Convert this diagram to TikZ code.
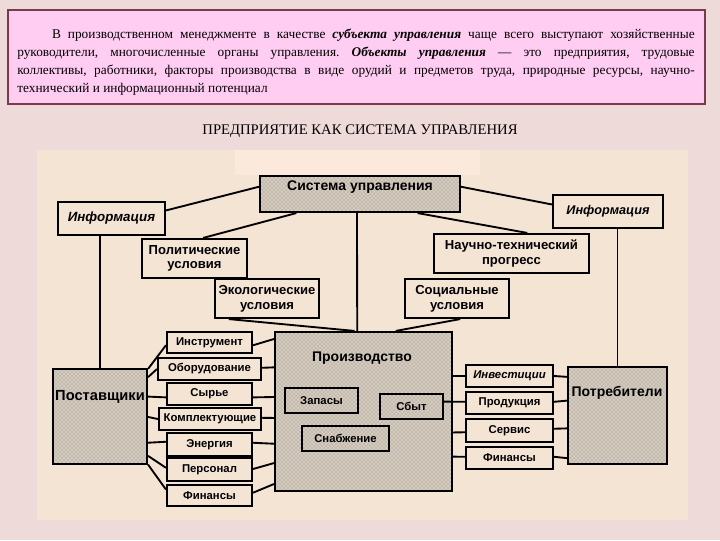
\documentclass[tikz,border=0pt]{standalone}
\usepackage{fontspec}
\setmainfont{Liberation Serif}
\newfontfamily\dgfont{Liberation Sans}
\usetikzlibrary{calc,patterns}
\definecolor{bgpink}{HTML}{EFDADA}
\definecolor{areabg}{HTML}{F3E4D3}
\definecolor{areatop}{HTML}{FBE9DC}
\definecolor{notefill}{HTML}{FFCCF2}
\definecolor{noteline}{HTML}{7A3A4C}
\definecolor{speckbg}{HTML}{D6CCBE}
\newcommand\mkbox[7]{\node[#6, minimum width={(#4-#2)*0.75pt}, minimum height={(#5-#3)*0.75pt}] (#1) at ({(#2+#4)/2},{(#3+#5)/2}) {#7};}
\begin{document}
\begin{tikzpicture}[x=0.75pt,y=-0.75pt,
  box/.style={draw=black, line width=1.6pt, fill=areabg, inner sep=0pt, align=center,
    font=\dgfont\bfseries\fontsize{8.5}{9.5}\selectfont},
  midbox/.style={box, font=\dgfont\bfseries\fontsize{9.8}{11}\selectfont},
  speck/.style={draw=black, line width=1.6pt, inner sep=0pt, align=center,
    preaction={fill=speckbg}, pattern=crosshatch dots, pattern color=black!50,
    font=\dgfont\bfseries\fontsize{8.5}{9.5}\selectfont},
  big/.style={font=\dgfont\bfseries\fontsize{10.5}{12}\selectfont, inner sep=0pt},
  conn/.style={line width=1.4pt, black}]
\useasboundingbox (0,0) rectangle (720,540);
\fill[bgpink] (0,0) rectangle (720,540);
% note box
\mkbox{note}{8}{10}{705}{104}{draw=noteline, line width=1.5pt, fill=notefill, inner sep=0pt}{}
\node[text width=508pt, align=justify, inner sep=0pt, font=\fontsize{10}{13.5}\selectfont] (notetext) at (356,62)
{\frenchspacing\hspace*{26pt}В производственном менеджменте в качестве \textbf{\textit{субъекта управления}} чаще всего выступают хозяйственные\linebreak
руководители, многочисленные органы управления. \textbf{\textit{Объекты управления}} — это предприятия, трудовые\linebreak
коллективы, работники, факторы производства в виде орудий и предметов труда, природные ресурсы, научно-\linebreak
технический и информационный потенциал};
\node[font=\fontsize{11}{13}\selectfont, inner sep=0pt] (title) at (360,131) {ПРЕДПРИЯТИЕ КАК СИСТЕМА УПРАВЛЕНИЯ};
% diagram area
\fill[areabg] (37,150) rectangle (688,520);
\fill[areatop] (235,150) rectangle (480,175);
% top level
\mkbox{sys}{260}{176}{460}{212}{speck}{}
\node[big] (systext) at (360,187) {Система управления};
\mkbox{infoL}{58}{202}{165}{235}{box, font=\dgfont\bfseries\itshape\fontsize{10}{11}\selectfont}{Информация}
\mkbox{infoR}{553}{195}{663}{228}{box, font=\dgfont\bfseries\itshape\fontsize{9.5}{11}\selectfont}{Информация}
\mkbox{pol}{142}{239}{247}{278}{midbox}{Политические\\условия}
\mkbox{eco}{215}{279}{319}{318}{midbox}{Экологические\\условия}
\mkbox{ntp}{434}{234}{589}{273}{midbox}{Научно-технический\\прогресс}
\mkbox{soc}{405}{279}{509}{318}{midbox}{Социальные\\условия}
% suppliers
\mkbox{post}{53}{369}{147}{464}{speck}{}
\node[big, font=\dgfont\bfseries\fontsize{11}{12}\selectfont] (posttext) at (100,397) {Поставщики};
\mkbox{instr}{167}{332}{252}{353}{box}{Инструмент}
\mkbox{obor}{158}{358}{261}{380}{box}{Оборудование}
\mkbox{syr}{167}{383}{252}{405}{box}{Сырье}
\mkbox{kompl}{159}{408}{261}{430}{box}{Комплектующие}
\mkbox{energ}{167}{433}{252}{456}{box}{Энергия}
\mkbox{pers}{167}{458}{252}{481}{box}{Персонал}
\mkbox{finL}{167}{485}{252}{506}{box}{Финансы}
% production
\mkbox{prod}{275}{332}{452}{491}{speck}{}
\node[big] (prodtext) at (362,358) {Производство};
\mkbox{zap}{285}{388}{358}{413}{speck}{Запасы}
\mkbox{sbyt}{380}{394}{443}{419}{speck}{Сбыт}
\mkbox{snab}{302}{426}{389}{451}{speck}{Снабжение}
% outputs
\mkbox{inv}{466}{365}{553}{387}{box, font=\dgfont\bfseries\itshape\fontsize{8.5}{9.5}\selectfont}{Инвестиции}
\mkbox{prodk}{466}{392}{553}{414}{box}{Продукция}
\mkbox{serv}{466}{419}{553}{442}{box}{Сервис}
\mkbox{finR}{466}{447}{553}{469}{box}{Финансы}
\mkbox{potr}{568}{367}{667}{464}{speck}{}
\node[big] (potrtext) at (617,393) {Потребители};
% connectors: top
\draw[conn] ($(infoL.north east)!0.27!(infoL.south east)$) -- ($(sys.north west)!0.31!(sys.south west)$);
\draw[conn] ($(sys.north east)!0.31!(sys.south east)$) -- ($(infoR.north west)!0.3!(infoR.south west)$);
\draw[conn] ($(sys.south west)!0.185!(sys.south east)$) -- ($(pol.north west)!0.58!(pol.north east)$);
\draw[conn] ($(sys.south west)!0.785!(sys.south east)$) -- ($(ntp.north west)!0.6!(ntp.north east)$);
\draw[conn] ($(sys.south west)!0.485!(sys.south east)$) -- ($(prod.north west)!0.465!(prod.north east)$);
\draw[conn] ($(eco.south west)!0.14!(eco.south east)$) -- ($(prod.north west)!0.45!(prod.north east)$);
\draw[conn] ($(soc.south west)!0.53!(soc.south east)$) -- ($(prod.north west)!0.68!(prod.north east)$);
\draw[conn] (post.north) -- (post.north |- infoL.south);
\draw[conn] (potr.north) -- (potr.north |- infoR.south);
% suppliers to resources
\draw[conn] ($(post.north east)!0.01!(post.south east)$) -- ($(instr.north west)!0.62!(instr.south west)$);
\draw[conn] ($(post.north east)!0.095!(post.south east)$) -- ($(obor.north west)!0.5!(obor.south west)$);
\draw[conn] ($(post.north east)!0.295!(post.south east)$) -- ($(syr.north west)!0.64!(syr.south west)$);
\draw[conn] ($(post.north east)!0.505!(post.south east)$) -- ($(kompl.north west)!0.5!(kompl.south west)$);
\draw[conn] ($(post.north east)!0.77!(post.south east)$) -- ($(energ.north west)!0.39!(energ.south west)$);
\draw[conn] ($(post.north east)!0.905!(post.south east)$) -- ($(pers.north west)!0.43!(pers.south west)$);
\draw[conn] ($(post.north east)!0.995!(post.south east)$) -- ($(finL.north west)!0.24!(finL.south west)$);
% resources to production
\draw[conn] ($(instr.north east)!0.62!(instr.south east)$) -- ($(prod.north west)!0.05!(prod.south west)$);
\draw[conn] ($(obor.north east)!0.45!(obor.south east)$) -- ($(prod.north west)!0.226!(prod.south west)$);
\draw[conn] ($(syr.north east)!0.64!(syr.south east)$) -- ($(prod.north west)!0.41!(prod.south west)$);
\draw[conn] ($(kompl.north east)!0.45!(kompl.south east)$) -- ($(prod.north west)!0.54!(prod.south west)$);
\draw[conn] ($(energ.north east)!0.43!(energ.south east)$) -- ($(prod.north west)!0.70!(prod.south west)$);
\draw[conn] ($(pers.north east)!0.48!(pers.south east)$) -- ($(prod.north west)!0.82!(prod.south west)$);
\draw[conn] ($(finL.north east)!0.38!(finL.south east)$) -- ($(prod.north west)!0.95!(prod.south west)$);
% production to outputs
\draw[conn] ($(prod.north east)!0.28!(prod.south east)$) -- (inv.west);
\draw[conn] ($(sbyt.north east)!0.32!(sbyt.south east)$) -- ($(prodk.north west)!0.45!(prodk.south west)$);
\draw[conn] ($(prod.north east)!0.63!(prod.south east)$) -- ($(serv.north west)!0.57!(serv.south west)$);
\draw[conn] ($(prod.north east)!0.78!(prod.south east)$) -- ($(finR.north west)!0.45!(finR.south west)$);
% outputs to consumers
\draw[conn] ($(inv.north east)!0.5!(inv.south east)$) -- ($(potr.north west)!0.11!(potr.south west)$);
\draw[conn] ($(prodk.north east)!0.45!(prodk.south east)$) -- ($(potr.north west)!0.35!(potr.south west)$);
\draw[conn] ($(serv.north east)!0.43!(serv.south east)$) -- ($(potr.north west)!0.63!(potr.south west)$);
\draw[conn] ($(finR.north east)!0.45!(finR.south east)$) -- ($(potr.north west)!0.93!(potr.south west)$);
\end{tikzpicture}
\end{document}
